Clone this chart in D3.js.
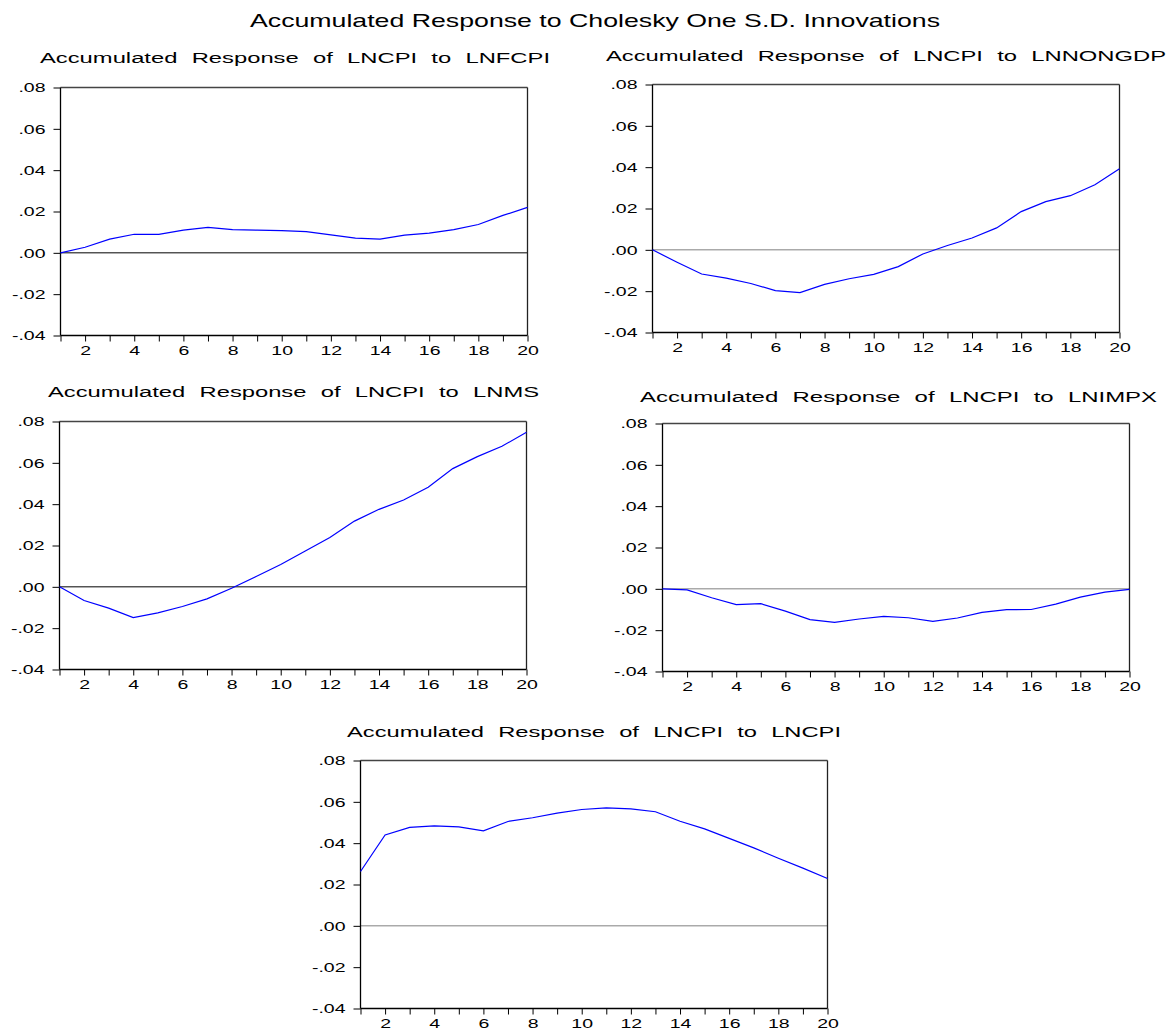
<!DOCTYPE html>
<html>
<head>
<meta charset="utf-8">
<script src="https://cdn.jsdelivr.net/npm/d3@7"></script>
<style>
  body { margin: 0; background: #fff; }
  text { font-family: "Liberation Sans", Arial, sans-serif; fill: #000; }
</style>
</head>
<body>
<svg id="chart" width="1168" height="1031"></svg>
<script>
// ---------------- data ----------------
const periods = [1,2,3,4,5,6,7,8,9,10,11,12,13,14,15,16,17,18,19,20];
const mainTitle = "Accumulated Response to Cholesky One S.D. Innovations";
const panelTitles = [
  "Accumulated Response of LNCPI to LNFCPI",
  "Accumulated Response of LNCPI to LNNONGDP",
  "Accumulated Response of LNCPI to LNMS",
  "Accumulated Response of LNCPI to LNIMPX",
  "Accumulated Response of LNCPI to LNCPI"
];
const respLNFCPI = [0.0000,0.0027,0.0066,0.0090,0.0089,0.0110,0.0123,0.0112,0.0110,0.0107,
                    0.0103,0.0087,0.0071,0.0066,0.0086,0.0095,0.0112,0.0137,0.0181,0.0220];
const respLNNONGDP = [0.0000,-0.0060,-0.0117,-0.0137,-0.0163,-0.0197,-0.0207,-0.0167,-0.0140,-0.0119,
                      -0.0081,-0.0020,0.0021,0.0057,0.0106,0.0185,0.0233,0.0262,0.0315,0.0392];
const respLNMS = [0.0000,-0.0066,-0.0103,-0.0149,-0.0126,-0.0095,-0.0058,-0.0007,0.0050,0.0108,
                  0.0173,0.0239,0.0318,0.0375,0.0420,0.0482,0.0572,0.0630,0.0680,0.0748];
const respLNIMPX = [0.0000,-0.0005,-0.0043,-0.0076,-0.0072,-0.0108,-0.0149,-0.0162,-0.0146,-0.0133,
                    -0.0140,-0.0157,-0.0141,-0.0114,-0.0101,-0.0100,-0.0074,-0.0040,-0.0016,-0.0003];
const respLNCPI = [0.0263,0.0440,0.0476,0.0484,0.0479,0.0460,0.0505,0.0523,0.0545,0.0563,
                   0.0571,0.0566,0.0552,0.0506,0.0469,0.0423,0.0377,0.0327,0.0279,0.0229];
const yTicks = [-0.04,-0.02,0.00,0.02,0.04,0.06,0.08];
const yTickLabels = ["-.04","-.02",".00",".02",".04",".06",".08"];
const xTickLabels = ["","2","","4","","6","","8","","10","","12","","14","","16","","18","","20"];
const yDomain = [-0.04, 0.08];

const seriesList = [respLNFCPI, respLNNONGDP, respLNMS, respLNIMPX, respLNCPI];

// ---------------- layout ----------------
const layout = [
  {x0:60,  x1:527,  y0:87,  y1:335,  tx:40,  tw:510, ty:63,  zero:"#000"},
  {x0:652, x1:1119, y0:84,  y1:332,  tx:606, tw:560, ty:61,  zero:"#808080"},
  {x0:59,  x1:526,  y0:421, y1:669,  tx:48,  tw:491, ty:397, zero:"#000"},
  {x0:662, x1:1129, y0:423, y1:671,  tx:640, tw:517, ty:402, zero:"#808080"},
  {x0:360, x1:827,  y0:760, y1:1008, tx:347, tw:494, ty:737, zero:"#808080"}
];
const stretch = 1.5;

const svg = d3.select("#chart");

svg.append("text")
  .attr("x", 250).attr("y", 27)
  .attr("font-size", 19)
  .attr("textLength", 690)
  .attr("lengthAdjust", "spacingAndGlyphs")
  .text(mainTitle);

seriesList.forEach((vals, i) => {
  const L = layout[i];
  const g = svg.append("g");
  const x = d3.scaleLinear().domain([periods[0], periods[periods.length-1]]).range([L.x0 + 0.5, L.x1 + 0.5]);
  const y = d3.scaleLinear().domain(yDomain).range([L.y1 + 0.5, L.y0 + 0.5]);

  // subtitle
  g.append("text")
    .attr("x", L.tx).attr("y", L.ty)
    .attr("font-size", 15.5)
    .attr("fill", "#111")
    .attr("word-spacing", 5)
    .attr("textLength", L.tw)
    .attr("lengthAdjust", "spacingAndGlyphs")
    .text(panelTitles[i]);

  // zero line
  g.append("line")
    .attr("x1", x.range()[0]).attr("x2", x.range()[1])
    .attr("y1", y(0)).attr("y2", y(0))
    .attr("stroke", L.zero).attr("stroke-width", 1);

  // y axis
  const yAxis = g.append("g")
    .attr("transform", `translate(${L.x0 + 0.5},0)`)
    .call(d3.axisLeft(y).tickValues(yTicks).tickSize(7).tickSizeOuter(0).tickPadding(8)
      .tickFormat(d => yTickLabels[yTicks.indexOf(d)]));
  yAxis.select(".domain").remove();
  yAxis.selectAll("line").attr("stroke", "#000");
  yAxis.selectAll("text")
    .attr("font-size", 13)
    .attr("font-family", "Liberation Sans, Arial, sans-serif")
    .attr("fill", "#000")
    .attr("x", -15 / stretch)
    .attr("transform", `scale(${stretch},1)`);

  // x axis
  const xAxis = g.append("g")
    .attr("transform", `translate(0,${L.y1 + 0.5})`)
    .call(d3.axisBottom(x).tickValues(periods).tickSize(6).tickSizeOuter(0).tickPadding(4)
      .tickFormat(d => xTickLabels[periods.indexOf(d)]));
  xAxis.select(".domain").remove();
  xAxis.selectAll("line").attr("stroke", "#000");
  xAxis.selectAll("text")
    .attr("font-size", 13)
    .attr("font-family", "Liberation Sans, Arial, sans-serif")
    .attr("fill", "#000")
    .attr("transform", `scale(${stretch},1)`);

  // frame
  g.append("line").attr("x1", L.x0 + 0.5).attr("x2", L.x1 + 0.5).attr("y1", L.y0 + 0.5).attr("y2", L.y0 + 0.5)
    .attr("stroke", "#444").attr("stroke-width", 1.3);
  g.append("line").attr("x1", L.x1 + 0.5).attr("x2", L.x1 + 0.5).attr("y1", L.y0 + 0.5).attr("y2", L.y1 + 0.5)
    .attr("stroke", "#222").attr("stroke-width", 1.3);
  g.append("line").attr("x1", L.x0 + 0.5).attr("x2", L.x0 + 0.5).attr("y1", L.y0 + 0.5).attr("y2", L.y1 + 0.5)
    .attr("stroke", "#000").attr("stroke-width", 1.3);
  g.append("line").attr("x1", L.x0 + 0.5).attr("x2", L.x1 + 0.5).attr("y1", L.y1 + 0.5).attr("y2", L.y1 + 0.5)
    .attr("stroke", "#000").attr("stroke-width", 1.3);

  // response line
  g.append("path")
    .datum(vals)
    .attr("fill", "none")
    .attr("stroke", "#0000ff")
    .attr("stroke-width", 1.2)
    .attr("d", d3.line().x((d, j) => x(periods[j])).y(d => y(d)));
});
</script>
</body>
</html>
